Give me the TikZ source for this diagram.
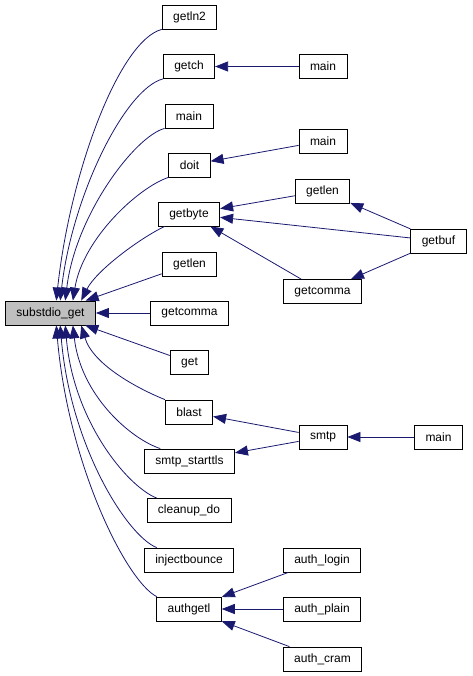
\documentclass[tikz,border=0pt]{standalone}
\usepackage{fontspec}
\setmainfont{Liberation Sans}
\definecolor{edgeNavy}{HTML}{191970}
\definecolor{rootGrey}{HTML}{BFBFBF}
\usetikzlibrary{arrows.meta}
\begin{document}
\begin{tikzpicture}[
                x=1pt, y=1pt,
                fnbox/.style={draw=black, line width=0.8pt, fill=white,
                              font=\fontsize{12}{14}\selectfont,
                              inner xsep=11pt, inner ysep=0pt, minimum height=24pt},
                rootbox/.style={fnbox, fill=rootGrey},
                call/.style={->, >={Triangle[length=13pt,width=10pt]},
                             line width=0.8pt, color=edgeNavy}
            ]
                \useasboundingbox (0,0) rectangle (472,-676);
                \node[rootbox] (sdget) at (50.5,-313) {substdio\_get};
                \node[fnbox] (getln2) at (189.5,-17) {getln2};
                \node[fnbox] (getch) at (189,-66.5) {getch};
                \node[fnbox] (mainA) at (189,-116) {main};
                \node[fnbox] (doit) at (189.5,-165) {doit};
                \node[fnbox] (getbyte) at (189,-214) {getbyte};
                \node[fnbox] (getlenA) at (189.5,-264) {getlen};
                \node[fnbox] (getcommaA) at (189.5,-313) {getcomma};
                \node[fnbox] (get) at (189.5,-362.5) {get};
                \node[fnbox] (blast) at (189,-412) {blast};
                \node[fnbox] (starttls) at (189.5,-461) {smtp\_starttls};
                \node[fnbox] (cleanup) at (189,-510.5) {cleanup\_do};
                \node[fnbox] (injbounce) at (189,-560) {injectbounce};
                \node[fnbox] (authgetl) at (189,-609) {authgetl};
                \node[fnbox] (mainB) at (323,-66.5) {main};
                \node[fnbox] (mainC) at (323,-141) {main};
                \node[fnbox] (getlenB) at (322.5,-191) {getlen};
                \node[fnbox] (getbuf) at (438.5,-241) {getbuf};
                \node[fnbox] (getcommaB) at (322.5,-291.5) {getcomma};
                \node[fnbox] (smtp) at (323,-437) {smtp};
                \node[fnbox] (mainD) at (438.5,-437) {main};
                \node[fnbox] (alogin) at (322,-560) {auth\_login};
                \node[fnbox] (aplain) at (322,-609) {auth\_plain};
                \node[fnbox] (acram) at (322.5,-659) {auth\_cram};
                \draw[call] (getln2.south west) .. controls +(-42,-11) and +(14,130) .. (sdget.65);
                \draw[call] (getch.south west) .. controls +(-38,-10) and +(12,105) .. (sdget.52);
                \draw[call] (mainA.south west) .. controls +(-30,-8) and +(10,85) .. (sdget.40);
                \draw[call] (doit.south west) .. controls +(-30,-10) and +(10,62) .. (sdget.29);
                \draw[call] (getbyte.207) .. controls +(-25,-12) and +(15,30) .. (sdget.22);
                \draw[call] (getlenA) -- (sdget);
                \draw[call] (getcommaA) -- (sdget);
                \draw[call] (get) -- (sdget);
                \draw[call] (blast.north west) .. controls +(-25,10) and +(12,-40) .. (sdget.-22);
                \draw[call] (starttls.157) .. controls +(-30,10) and +(8,-70) .. (sdget.-29);
                \draw[call] (cleanup.159) .. controls +(-30,12) and +(8,-95) .. (sdget.-40);
                \draw[call] (injbounce.159) .. controls +(-30,12) and +(10,-120) .. (sdget.-52);
                \draw[call] (authgetl.159) .. controls +(-30,15) and +(12,-140) .. (sdget.-65);
                \draw[call] (mainB) -- (getch);
                \draw[call] (mainC) -- (doit);
                \draw[call] (getlenB) -- (getbyte);
                \draw[call] (getbuf) -- (getbyte);
                \draw[call] (getcommaB) -- (getbyte);
                \draw[call] (getbuf) -- (getlenB);
                \draw[call] (getbuf) -- (getcommaB);
                \draw[call] (smtp) -- (blast);
                \draw[call] (smtp) -- (starttls);
                \draw[call] (mainD) -- (smtp);
                \draw[call] (alogin) -- (authgetl);
                \draw[call] (aplain) -- (authgetl);
                \draw[call] (acram) -- (authgetl);
            \end{tikzpicture}
\end{document}
